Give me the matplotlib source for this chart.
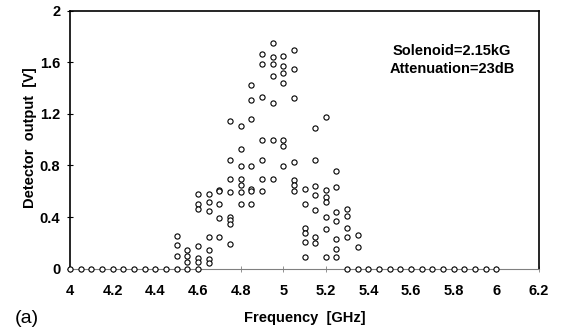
import matplotlib
matplotlib.use("Agg")
import matplotlib.pyplot as plt

# frequencies (GHz) and detector outputs (V) per frequency
freq_zero_low = [4.0, 4.05, 4.1, 4.15, 4.2, 4.25, 4.3, 4.35, 4.4, 4.45, 4.5, 4.55, 4.6]
freq_zero_high = [5.3, 5.35, 5.4, 5.45, 5.5, 5.55, 5.6, 5.65, 5.7, 5.75, 5.8, 5.85, 5.9, 5.95, 6.0]

columns = {
    4.50: [0.25, 0.186, 0.098],
    4.55: [0.147, 0.098, 0.052],
    4.60: [0.576, 0.499, 0.463, 0.176, 0.085, 0.052],
    4.65: [0.576, 0.514, 0.45, 0.245, 0.147, 0.075, 0.044],
    4.70: [0.612, 0.602, 0.499, 0.395, 0.245],
    4.75: [1.147, 0.845, 0.698, 0.594, 0.40, 0.377, 0.349, 0.194],
    4.80: [1.108, 0.93, 0.796, 0.698, 0.646, 0.594, 0.499],
    4.85: [1.426, 1.307, 1.163, 0.796, 0.62, 0.602, 0.499],
    4.90: [1.664, 1.584, 1.331, 0.995, 0.845, 0.698, 0.605],
    4.95: [1.752, 1.638, 1.584, 1.496, 1.282, 0.995, 0.698],
    5.00: [1.649, 1.568, 1.514, 1.442, 0.995, 0.953, 0.796],
    5.05: [1.698, 1.55, 1.323, 0.827, 0.687, 0.649, 0.60],
    5.10: [0.618, 0.499, 0.318, 0.279, 0.207, 0.088],
    5.15: [1.093, 0.84, 0.643, 0.574, 0.457, 0.248, 0.202],
    5.20: [1.173, 0.607, 0.556, 0.519, 0.40, 0.305, 0.088],
    5.25: [0.757, 0.63, 0.437, 0.37, 0.233, 0.155, 0.088],
    5.30: [0.463, 0.408, 0.318, 0.248],
    5.35: [0.261, 0.171],
}

x_ticks = [4, 4.2, 4.4, 4.6, 4.8, 5, 5.2, 5.4, 5.6, 5.8, 6, 6.2]
x_tick_labels = ["4", "4.2", "4.4", "4.6", "4.8", "5", "5.2", "5.4", "5.6", "5.8", "6", "6.2"]
y_ticks = [0, 0.4, 0.8, 1.2, 1.6, 2]
y_tick_labels = ["0", "0.4", "0.8", "1.2", "1.6", "2"]

xs, ys = [], []
for f in freq_zero_low + freq_zero_high:
    xs.append(f); ys.append(0.0)
for f, vals in columns.items():
    for v in vals:
        xs.append(f); ys.append(v)

plt.rcParams['font.family'] = ['Liberation Sans', 'DejaVu Sans']
fig = plt.figure(figsize=(5.61, 3.30), dpi=100)
ax = fig.add_axes([0.1248, 0.1858, 0.836, 0.7818])
ax.scatter(xs, ys, s=14, facecolors='white', edgecolors='black', linewidths=0.8, zorder=3, clip_on=False)
ax.set_xlim(4, 6.2)
ax.set_ylim(0, 2)
ax.set_xticks(x_ticks)
ax.set_xticklabels(x_tick_labels, fontweight='bold', fontsize=10.5)
ax.set_yticks(y_ticks)
ax.set_yticklabels(y_tick_labels, fontweight='bold', fontsize=10.5)
ax.tick_params(axis='x', direction='inout', length=4, pad=9, width=0.6, color='gray')
ax.tick_params(axis='y', direction='inout', length=5, pad=4.5)
for s in ['top', 'right', 'left']:
    ax.spines[s].set_linewidth(1.2)
ax.spines['bottom'].set_color('gray')
ax.spines['bottom'].set_linewidth(0.8)
ax.set_xlabel("Frequency  [GHz]", fontweight='bold', fontsize=10.5, va='center')
ax.xaxis.set_label_coords(0.5, -0.192)
ax.set_ylabel("Detector  output  [V]", fontweight='bold', fontsize=10.5, va='center')
ax.yaxis.set_label_coords(-0.0853, 0.507)
ax.text(0.8145, 0.828, "Solenoid=2.15kG", transform=ax.transAxes,
        ha='center', va='baseline', fontweight='bold', fontsize=10.5)
ax.text(0.8145, 0.7585, "Attenuation=23dB", transform=ax.transAxes,
        ha='center', va='baseline', fontweight='bold', fontsize=10.5)
fig.text(0.0267, 0.036, "(a)", fontsize=14, ha='left', va='center')
fig.savefig("out.png", dpi=100)
